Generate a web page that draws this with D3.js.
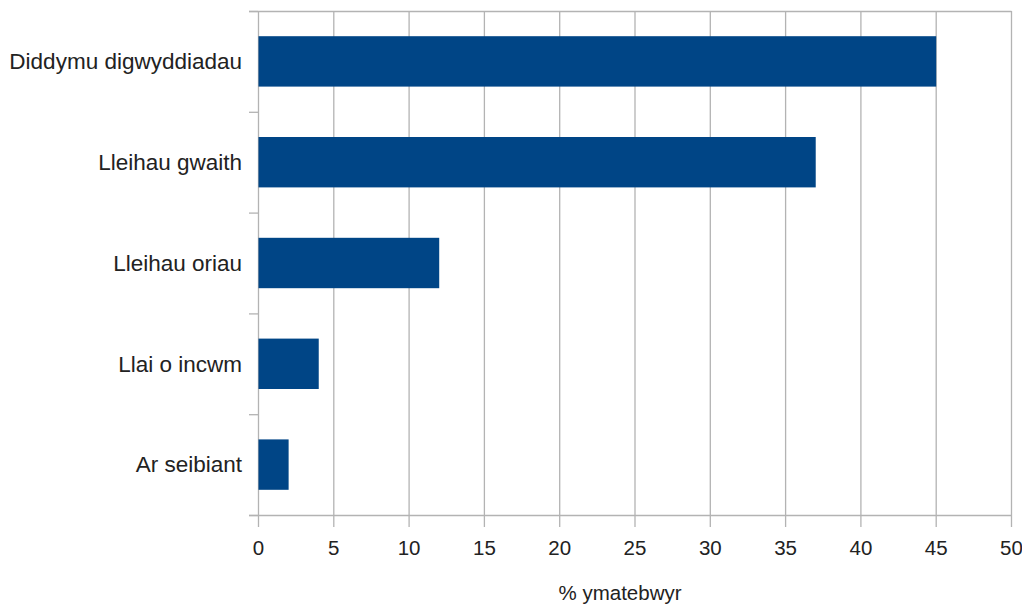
<!DOCTYPE html>
<html><head><meta charset="utf-8">
<script src="https://cdn.jsdelivr.net/npm/d3@7"></script>
<style>body{margin:0;background:#fff;} svg{display:block;} text{font-family:"Liberation Sans",Arial,sans-serif;fill:#222;}</style>
</head><body>
<svg id="c" width="1022" height="605"></svg>
<script>
const categories = ["Diddymu digwyddiadau","Lleihau gwaith","Lleihau oriau","Llai o incwm","Ar seibiant"];
const values = [45, 37, 12, 4, 2];
const xTicks = [0,5,10,15,20,25,30,35,40,45,50];
const xTitle = "% ymatebwyr";

const svg = d3.select("#c");
const L = 258, R = 1011, T = 11, B = 515;
const x = d3.scaleLinear().domain([0,50]).range([L,R]);
const y = d3.scaleBand().domain(categories).range([T,B]).paddingInner(0.5).paddingOuter(0.25);
const grid = "#b3b3b3";

// vertical gridlines
svg.append("g").selectAll("line").data(xTicks).join("line")
  .attr("x1", d=>x(d)+0.5).attr("x2", d=>x(d)+0.5).attr("y1", T).attr("y2", B+12)
  .attr("stroke", grid).attr("stroke-width", 1.3);
// top border
svg.append("line").attr("x1", L-9).attr("x2", R+0.5).attr("y1", T+0.5).attr("y2", T+0.5).attr("stroke", grid).attr("stroke-width",1.3);
// bottom axis line
svg.append("line").attr("x1", L-9).attr("x2", R+0.5).attr("y1", B+0.5).attr("y2", B+0.5).attr("stroke", grid).attr("stroke-width",1.3);
// y tick marks at band boundaries
const bounds = d3.range(categories.length+1).map(i => T + i*(B-T)/categories.length);
svg.append("g").selectAll("line").data(bounds).join("line")
  .attr("x1", L-9).attr("x2", L).attr("y1", d=>d+0.5).attr("y2", d=>d+0.5)
  .attr("stroke", grid).attr("stroke-width",1.3);

// bars
svg.append("g").selectAll("rect").data(values).join("rect")
  .attr("x", x(0)+0.5).attr("y", (d,i)=>y(categories[i]))
  .attr("width", d=>x(d)-x(0)).attr("height", y.bandwidth())
  .attr("fill", "#004586");

// x tick labels
svg.append("g").selectAll("text").data(xTicks).join("text")
  .attr("x", d=>x(d)+0.5).attr("y", 555).attr("text-anchor","middle")
  .style("font-size","20.5px").text(d=>d);
// y labels
svg.append("g").selectAll("text").data(categories).join("text")
  .attr("x", 242).attr("y", d=>y(d)+y.bandwidth()/2).attr("dy","0.35em").attr("text-anchor","end")
  .style("font-size","22.5px").text(d=>d);
// x title
svg.append("text").attr("x", 620).attr("y", 600).attr("text-anchor","middle")
  .style("font-size","20.5px").text(xTitle);
</script>
</body></html>
